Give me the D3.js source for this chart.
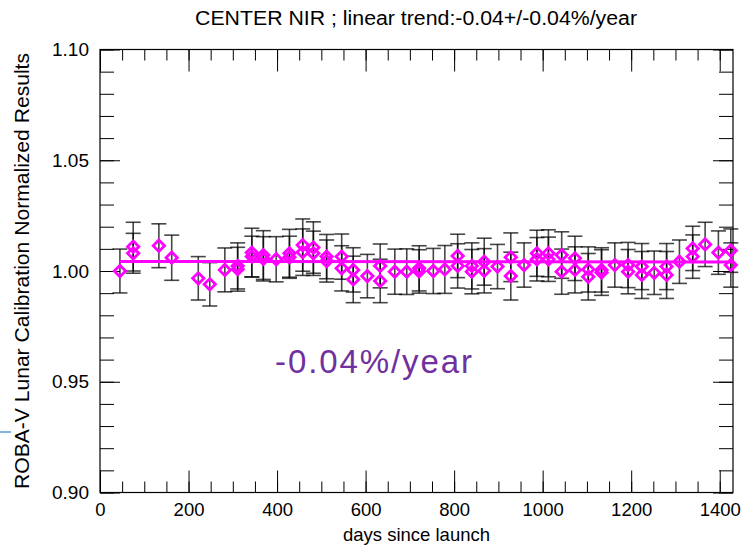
<!DOCTYPE html>
<html>
<head>
<meta charset="utf-8">
<script src="https://cdn.jsdelivr.net/npm/d3@7"></script>
<style>
  body { margin: 0; background: #fff; }
  svg { display: block; }
  text { font-family: "Liberation Sans", Arial, Helvetica, sans-serif; }
</style>
</head>
<body>
<svg id="chart"></svg>
<script>
// days since launch for each lunar observation (pairs share the same day)
const dayValues = [45, 75, 75, 133, 162, 222, 248, 282, 311, 311, 343, 343, 369, 369, 398,
  428, 428, 458, 458, 482, 482, 512, 512, 546, 546, 572, 572, 604, 633, 633, 666, 693,
  721, 721, 753, 779, 808, 808, 840, 840, 868, 868, 898, 928, 928, 958, 987, 987,
  1013, 1013, 1043, 1043, 1073, 1073, 1103, 1103, 1133, 1133, 1163, 1193, 1193,
  1224, 1224, 1252, 1280, 1280, 1309, 1339, 1339, 1367, 1397, 1425, 1425];
const normValues = [1.0000, 1.0110, 1.0080, 1.0114, 1.0060, 0.9967, 0.9940, 1.0005, 1.0023, 1.0008,
  1.0083, 1.0065, 1.0072, 1.0055, 1.0053, 1.0080, 1.0062, 1.0117, 1.0085, 1.0106, 1.0080,
  1.0065, 1.0045, 1.0065, 1.0012, 1.0005, 0.9962, 0.9977, 1.0023, 0.9955, 0.9997, 0.9997,
  1.0012, 0.9998, 1.0000, 1.0007, 1.0068, 1.0023, 1.0023, 0.9997, 1.0042, 1.0001, 1.0020,
  1.0062, 0.9977, 1.0027, 1.0080, 1.0053, 1.0080, 1.0053, 1.0072, 0.9997, 1.0057, 1.0005,
  1.0007, 0.9974, 1.0005, 0.9993, 1.0027, 1.0027, 0.9997, 1.0020, 0.9982, 0.9992, 1.0020,
  0.9982, 1.0042, 1.0102, 1.0065, 1.0120, 1.0083, 1.0092, 1.0027];
const errValues = [0.0099, 0.0110, 0.0090, 0.0099, 0.0102, 0.0098, 0.0098, 0.0099, 0.0104, 0.0099,
  0.0110, 0.0092, 0.0110, 0.0100, 0.0102, 0.0108, 0.0095, 0.0118, 0.0105, 0.0116, 0.0100,
  0.0100, 0.0095, 0.0102, 0.0102, 0.0100, 0.0105, 0.0098, 0.0099, 0.0098, 0.0102, 0.0103,
  0.0102, 0.0098, 0.0102, 0.0108, 0.0098, 0.0100, 0.0104, 0.0100, 0.0106, 0.0100, 0.0100,
  0.0110, 0.0108, 0.0100, 0.0104, 0.0098, 0.0106, 0.0100, 0.0105, 0.0102, 0.0100, 0.0104,
  0.0102, 0.0105, 0.0100, 0.0103, 0.0100, 0.0102, 0.0100, 0.0104, 0.0106, 0.0098, 0.0104,
  0.0106, 0.0098, 0.0100, 0.0098, 0.0100, 0.0098, 0.0098, 0.0100];

// fitted linear trend (start / end)
const trendDays = [45, 1430];
const trendValues = [1.0043, 1.0041];

const xMajorTicks = [0, 200, 400, 600, 800, 1000, 1200, 1400];
const yMajorTicks = [0.90, 0.95, 1.00, 1.05, 1.10];
const xMinorTicks = d3.range(0, 1431, 50);
const yMinorTicks = d3.range(0.90, 1.1001, 0.01);

const chartTitle = "CENTER NIR ; linear trend:-0.04+/-0.04%/year";
const xTitle = "days since launch";
const yTitle = "ROBA-V Lunar Calibration Normalized Results";
const noteText = "-0.04%/year";

const W = 742, H = 547;
const margin = { top: 49.5, right: 9, bottom: 54.5, left: 100 };

const svg = d3.select("#chart").attr("width", W).attr("height", H);

const x = d3.scaleLinear().domain([0, 1430]).range([margin.left, W - margin.right]);
const y = d3.scaleLinear().domain([0.90, 1.10]).range([H - margin.bottom, margin.top]);

const plotLeft = x.range()[0], plotRight = x.range()[1];
const plotTop = y.range()[1], plotBottom = y.range()[0];

// ticks - all drawn inward like IDL
function tickAxis(axisFn, pos, vals, size, labels) {
  const ax = axisFn.tickValues(vals).tickSizeInner(-size).tickSizeOuter(0).tickPadding(8);
  if (!labels) ax.tickFormat("");
  const g = svg.append("g").attr("transform", pos).call(ax);
  g.select(".domain").remove();
  g.selectAll(".tick line").attr("stroke", "#000").attr("stroke-width", 1);
  return g;
}

const xb = tickAxis(d3.axisBottom(x).tickFormat(d3.format("d")), `translate(0,${plotBottom})`, xMajorTicks, 22, true);
xb.selectAll("text").attr("font-size", 18.5).attr("fill", "#000").attr("y", 10);
tickAxis(d3.axisBottom(x), `translate(0,${plotBottom})`, xMinorTicks, 11, false);
tickAxis(d3.axisTop(x), `translate(0,${plotTop})`, xMajorTicks, 22, false);
tickAxis(d3.axisTop(x), `translate(0,${plotTop})`, xMinorTicks, 11, false);

const yl = tickAxis(d3.axisLeft(y).tickFormat(d3.format(".2f")), `translate(${plotLeft},0)`, yMajorTicks, 20, true);
yl.selectAll("text").attr("font-size", 19).attr("fill", "#000").attr("x", -11);
tickAxis(d3.axisLeft(y), `translate(${plotLeft},0)`, yMinorTicks, 14, false);
tickAxis(d3.axisRight(y), `translate(${plotRight},0)`, yMajorTicks, 20, false);
tickAxis(d3.axisRight(y), `translate(${plotRight},0)`, yMinorTicks, 14, false);

// frame
svg.append("rect")
  .attr("x", plotLeft).attr("y", plotTop)
  .attr("width", plotRight - plotLeft).attr("height", plotBottom - plotTop)
  .attr("fill", "none").attr("stroke", "#000").attr("stroke-width", 1.2);

const pts = dayValues.map((d, i) => ({ day: d, v: normValues[i], e: errValues[i] }));

// error bars
const eb = svg.append("g").attr("class", "errbars")
  .attr("stroke", "#000").attr("stroke-opacity", 0.72).attr("stroke-width", 1.6);
const capW = 7.5;
pts.forEach(p => {
  const cx = x(p.day);
  eb.append("line").attr("x1", cx).attr("x2", cx).attr("y1", y(p.v - p.e)).attr("y2", y(p.v + p.e));
  eb.append("line").attr("x1", cx - capW).attr("x2", cx + capW).attr("y1", y(p.v + p.e)).attr("y2", y(p.v + p.e));
  eb.append("line").attr("x1", cx - capW).attr("x2", cx + capW).attr("y1", y(p.v - p.e)).attr("y2", y(p.v - p.e));
});

// trend line
svg.append("line")
  .attr("x1", x(trendDays[0])).attr("x2", x(trendDays[1]))
  .attr("y1", y(trendValues[0])).attr("y2", y(trendValues[1]))
  .attr("stroke", "#ff00ff").attr("stroke-width", 3);

// diamonds
svg.append("g").selectAll("path")
  .data(pts)
  .join("path")
  .attr("d", d3.symbol(d3.symbolSquare, 64)())
  .attr("transform", d => `translate(${x(d.day)},${y(d.v)}) rotate(45)`)
  .attr("fill", "none")
  .attr("stroke", "#ff00ff")
  .attr("stroke-width", 2.8);

// titles
svg.append("text")
  .attr("x", 416).attr("y", 25)
  .attr("text-anchor", "middle").attr("font-size", 20)
  .attr("textLength", 442).attr("lengthAdjust", "spacingAndGlyphs")
  .text(chartTitle);

svg.append("text")
  .attr("x", (plotLeft + plotRight) / 2).attr("y", 541)
  .attr("text-anchor", "middle").attr("font-size", 18.5)
  .text(xTitle);

svg.append("text")
  .attr("transform", `translate(29, ${(plotTop + plotBottom) / 2}) rotate(-90)`)
  .attr("text-anchor", "middle").attr("font-size", 20)
  .attr("textLength", 436).attr("lengthAdjust", "spacingAndGlyphs")
  .text(yTitle);

// slide annotation
svg.append("text")
  .attr("x", 275).attr("y", 373)
  .attr("font-family", "'Open Sans', 'Noto Sans', sans-serif")
  .attr("font-size", 33)
  .attr("fill", "#7030a0")
  .attr("textLength", 197).attr("lengthAdjust", "spacing")
  .text(noteText);

// small leftover slide mark
svg.append("line")
  .attr("x1", 0).attr("x2", 11).attr("y1", 432).attr("y2", 432)
  .attr("stroke", "#5b9bd5").attr("stroke-width", 1.5);
</script>
</body>
</html>
